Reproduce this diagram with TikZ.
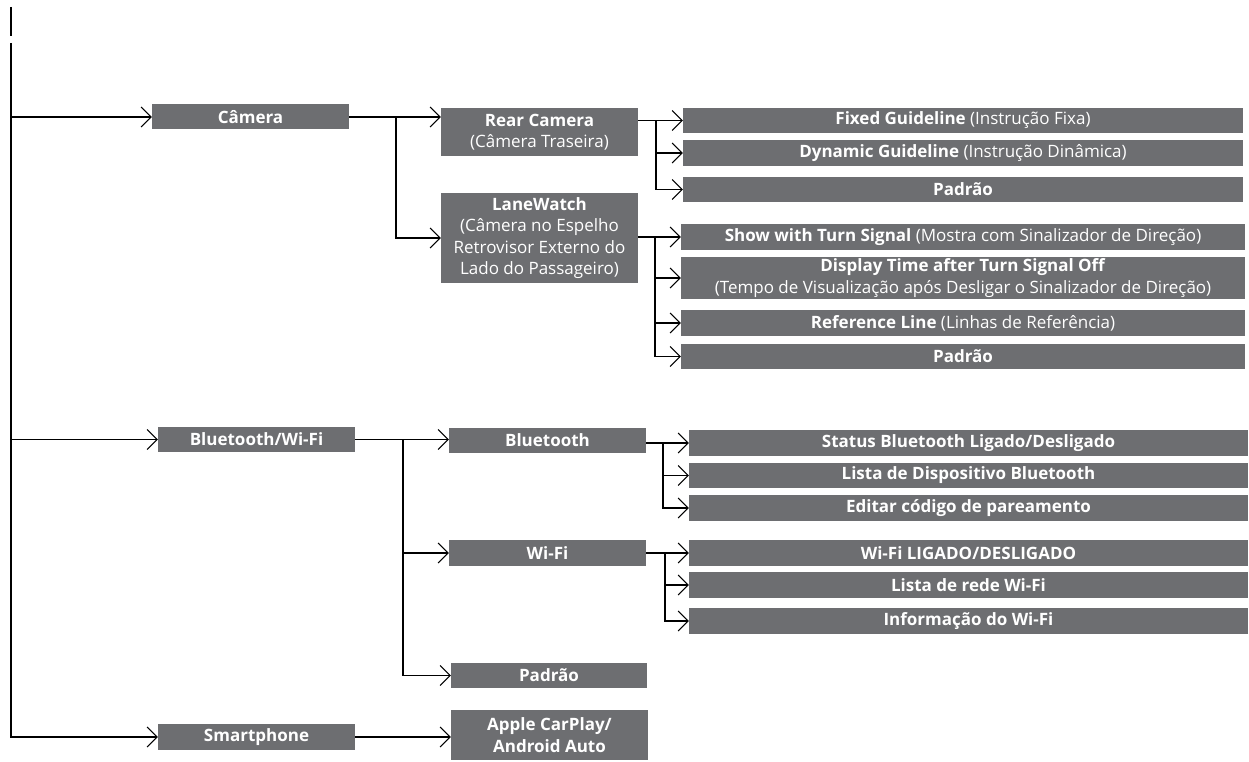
\documentclass[tikz,border=0pt]{standalone}
\usepackage{fontspec}
\setmainfont{Open Sans}
\usetikzlibrary{arrows.meta,calc}
\definecolor{boxgray}{HTML}{6D6E71}
\begin{document}
\begin{tikzpicture}[x=1pt,y=-1pt,
  box/.style={fill=boxgray, text=white, inner sep=0pt, align=center, font=\fontsize{17}{21.5}\selectfont, anchor=center},
  conn/.style={line width=1.8pt, draw=black},
  arr/.style={conn, -{Straight Barb[length=10pt,width=20pt,line width=1pt]}},
]
\useasboundingbox (0,0) rectangle (1249,762);

% level 1
\node[box,minimum width=197,minimum height=25] (cam) at (250.5,117) {\textbf{Câmera}};
\node[box,minimum width=197,minimum height=25] (btw) at (256.5,439.5) {\textbf{Bluetooth/Wi-Fi}};
\node[box,minimum width=197,minimum height=26] (smart) at (256.5,737) {\textbf{Smartphone}};

% level 2
\node[box,minimum width=197,minimum height=48] (rear) at (539.5,132) {\textbf{Rear Camera}\\(Câmera Traseira)};
\node[box,minimum width=197,minimum height=90] (lane) at (539.5,238) {\textbf{LaneWatch}\\(Câmera no Espelho\\Retrovisor Externo do\\Lado do Passageiro)};
\node[box,minimum width=197,minimum height=25] (bt) at (547.5,440.5) {\textbf{Bluetooth}};
\node[box,minimum width=197,minimum height=26] (wifi) at (547.5,553) {\textbf{Wi-Fi}};
\node[box,minimum width=196,minimum height=25] (pad3) at (549,675.5) {\textbf{Padrão}};
\node[box,minimum width=197,minimum height=50] (apple) at (549.5,735) {\textbf{Apple CarPlay/}\\\textbf{Android Auto}};

% level 3
\node[box,minimum width=560,minimum height=25] (fixed) at (963,120.5) {\textbf{Fixed Guideline} (Instrução Fixa)};
\node[box,minimum width=560,minimum height=26] (dyn) at (963,153) {\textbf{Dynamic Guideline} (Instrução Dinâmica)};
\node[box,minimum width=560,minimum height=25] (pad1) at (963,189.5) {\textbf{Padrão}};
\node[box,minimum width=564,minimum height=26] (show) at (963,237) {\textbf{Show with Turn Signal} (Mostra com Sinalizador de Direção)};
\node[box,minimum width=564,minimum height=42] (disp) at (963,278) {\textbf{Display Time after Turn Signal Off}\\(Tempo de Visualização após Desligar o Sinalizador de Direção)};
\node[box,minimum width=564,minimum height=26] (ref) at (963,323) {\textbf{Reference Line} (Linhas de Referência)};
\node[box,minimum width=564,minimum height=25] (pad2) at (963,356.5) {\textbf{Padrão}};

\node[box,minimum width=559,minimum height=26] (status) at (968.5,443) {\textbf{Status Bluetooth Ligado/Desligado}};
\node[box,minimum width=559,minimum height=25] (lista1) at (968.5,475.5) {\textbf{Lista de Dispositivo Bluetooth}};
\node[box,minimum width=559,minimum height=26] (editar) at (968.5,508) {\textbf{Editar código de pareamento}};
\node[box,minimum width=559,minimum height=26] (wifion) at (968.5,553) {\textbf{Wi-Fi LIGADO/DESLIGADO}};
\node[box,minimum width=559,minimum height=26] (lista2) at (968.5,585) {\textbf{Lista de rede Wi-Fi}};
\node[box,minimum width=559,minimum height=26] (info) at (968.5,621) {\textbf{Informação do Wi-Fi}};

% trunk
\coordinate (top1) at (11,7);
\coordinate (top2) at (11,36);
\coordinate (trunk) at (11,43);
\draw[conn] (top1) -- (top2);
\draw[arr] (trunk) |- (smart.west);
\draw[arr] (trunk |- cam.west) -- (cam.west);
\draw[arr] (trunk |- btw.west) -- (btw.west);

% camera
\coordinate (cj) at ([xshift=47]cam.east);
\draw[arr] (cam.east) -- (rear.west |- cam.east);
\draw[arr] (cj) |- (lane.west);

\coordinate (rj) at ([xshift=18]rear.east |- fixed.west);
\draw[arr] (rear.east |- fixed.west) -- (fixed.west);
\draw[arr] (rj) |- (dyn.west);
\draw[arr] (rj) |- (pad1.west);

\coordinate (lj) at ([xshift=17]lane.east |- show.west);
\draw[arr] (lane.east |- show.west) -- (show.west);
\draw[arr] (lj) |- (disp.west);
\draw[arr] (lj) |- (ref.west);
\draw[arr] (lj) |- (pad2.west);

% bluetooth / wifi
\coordinate (bj) at ([xshift=48]btw.east);
\draw[arr] (btw.east) -- (bt.west |- btw.east);
\draw[arr] (bj) |- (wifi.west);
\draw[arr] (bj) |- (pad3.west);

\coordinate (btj) at ([xshift=17]bt.east |- status.west);
\draw[arr] (bt.east |- status.west) -- (status.west);
\draw[arr] (btj) |- (lista1.west);
\draw[arr] (btj) |- (editar.west);

\coordinate (wj) at ([xshift=19]wifi.east);
\draw[arr] (wifi.east) -- (wifion.west);
\draw[arr] (wj) |- (lista2.west);
\draw[arr] (wj) |- (info.west);

% smartphone
\draw[arr] (smart.east) -- (apple.west |- smart.east);
\end{tikzpicture}
\end{document}
